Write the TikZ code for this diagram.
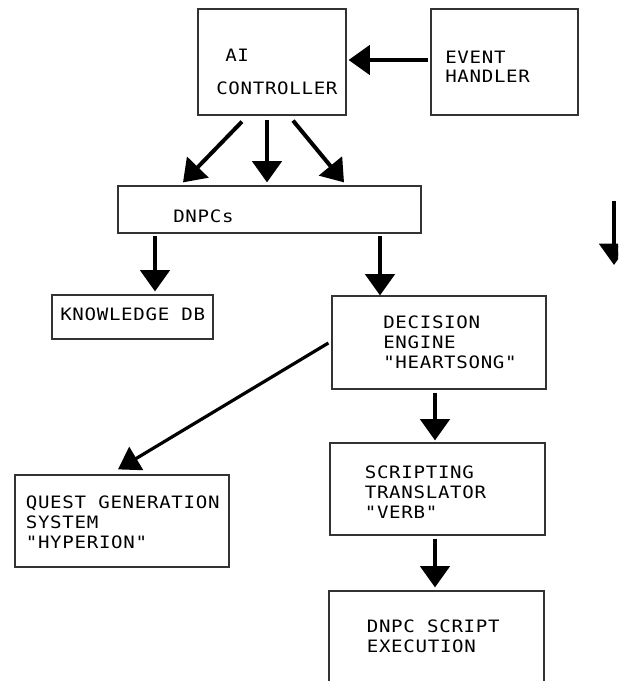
\documentclass[tikz,border=0pt]{standalone}
\usepackage{fontspec}
\newfontfamily\diagmono[FakeStretch=1.12,LetterSpace=4]{DejaVu Sans Mono}
\usetikzlibrary{arrows.meta,calc,fit}
\begin{document}
\begin{tikzpicture}[x=0.75pt,y=-0.75pt,
  box/.style={draw=black!80,line width=0.9pt,inner sep=0pt},
  lbl/.style={anchor=base west,inner sep=0pt,align=left,text=black,
    font=\diagmono\fontsize{12.8}{14.8}\selectfont},
  arr/.style={line width=3pt,-{Triangle[length=16pt,width=22pt]}},
  thinarr/.style={line width=2.4pt,-{Triangle[length=16pt,width=20pt]}},
]
\useasboundingbox (0,0) rectangle (618,681);
\clip (0,0) rectangle (618,681);
% boxes
\node[box,fit={(198,9) (346,115)}] (ai) {};
\node[box,fit={(431,9) (578,115)}] (ev) {};
\node[box,fit={(118,186) (421,233)}] (dn) {};
\node[box,fit={(52,295) (213,339)}] (kd) {};
\node[box,fit={(332,296) (546,389)}] (de) {};
\node[box,fit={(15,475) (229,567)}] (qu) {};
\node[box,fit={(330,443) (545,535)}] (sc) {};
\node[box,fit={(329,591) (544,700)}] (ex) {};
% texts (anchor = baseline of last line)
\node[lbl] (aiA) at (225,62) {AI};
\node[lbl] (aiB) at (216,95) {CONTROLLER};
\node[lbl] (evT) at (445,83) {EVENT\\HANDLER};
\node[lbl] (dnT) at (173,222) {DNPCs};
\node[lbl] (kdT) at (60,320) {KNOWLEDGE DB};
\node[lbl] (deT) at (383,368) {DECISION\\ENGINE\\"HEARTSONG"};
\node[lbl] (quT) at (25.6,548) {QUEST GENERATION\\SYSTEM\\"HYPERION"};
\node[lbl] (scT) at (364.6,518) {SCRIPTING\\TRANSLATOR\\"VERB"};
\node[lbl] (exT) at (366.6,652) {DNPC SCRIPT\\EXECUTION};
% connectors
\draw[arr] ($(ev.west)+(-2,-2)$) -- ($(ai.east)+(2,-2)$);
\draw[arr] ($(ai.south)+(-30,6)$) -- ($(dn.north)+(-86.5,-3)$);
\draw[arr] ($(ai.south)+(-5,4)$) -- ($(dn.north)+(-2.5,-3)$);
\draw[arr] ($(ai.south)+(21,5)$) -- ($(dn.north)+(74.5,-3)$);
\draw[arr] ($(dn.south)+(-114.5,2)$) -- ($(kd.north)+(22.5,-3)$);
\draw[arr] ($(dn.south)+(110.5,2)$) -- ($(de.north)+(-59,0)$);
\draw[thinarr] ($(de.west)+(-3,0.5)$) -- ($(qu.north)+(-4,-5)$);
\draw[arr] ($(de.south)+(-4,3)$) -- ($(sc.north)+(-2.5,-2)$);
\draw[arr] ($(sc.south)+(-2.5,3)$) -- ($(ex.north)+(-1.5,-3)$);
\coordinate (frA) at (614,201);
\coordinate (frB) at (614,265);
\draw[arr] (frA) -- (frB);
\end{tikzpicture}
\end{document}
